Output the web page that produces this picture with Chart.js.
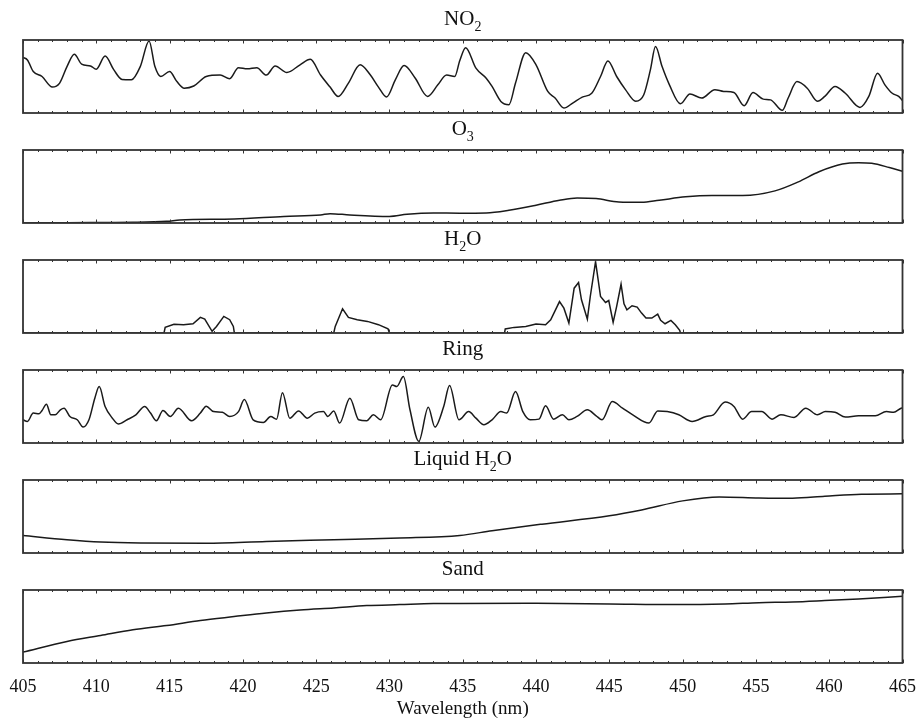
<!DOCTYPE html>
<html>
<head>
<meta charset="utf-8">
<script src="https://cdn.jsdelivr.net/npm/chart.js@4.4.1/dist/chart.umd.min.js"></script>
<style>
  body { margin: 0; background: #fff; }
  #wrap { position: relative; width: 919px; height: 720px; }
  #wrap canvas { position: absolute; left: 0; }
</style>
</head>
<body>
<div id="wrap"></div>
<script>
// x axis labels (nm)
const xTicks = [405, 410, 415, 420, 425, 430, 435, 440, 445, 450, 455, 460, 465];

const no2Wl = [405, 405.3, 405.7, 406.3, 407.0, 407.5, 408.0, 408.5, 409.0, 409.6, 410.0, 410.6, 411.2, 411.75, 412.4, 413.0, 413.6, 414.0, 414.4, 415.0, 415.5, 416.0, 416.65, 417.5, 418.45, 419.1, 419.7, 420.3, 420.95, 421.6, 422.2, 423.0, 423.9, 424.6, 425.3, 425.95, 426.5, 427.2, 428.0, 428.7, 429.25, 429.8, 430.4, 431.0, 431.75, 432.6, 433.3, 433.9, 434.45, 434.8, 435.2, 435.9, 436.6, 437.0, 437.6, 438.15, 438.6, 439.3, 440.0, 440.8, 441.3, 441.9, 442.5, 443.15, 443.8, 444.4, 444.9, 445.5, 446.1, 446.8, 447.35, 447.8, 448.15, 448.6, 449.1, 449.85, 450.5, 451.3, 452.2, 452.8, 453.5, 454.2, 454.8, 455.5, 456.0, 456.8, 457.2, 457.8, 458.5, 459.2, 459.7, 460.4, 461.1, 462.1, 462.7, 463.3, 463.8, 464.3, 464.74, 465];
const no2Val = [76, 72.7, 56.8, 50, 35.5, 41, 63.6, 80.5, 67, 64.5, 60, 78, 59, 46, 45.5, 63.6, 98.6, 63.6, 50, 56.8, 43, 34, 37, 50, 52, 47, 62, 60.5, 62, 52, 64.5, 55.5, 66, 73.6, 52, 35.5, 22.7, 41, 66, 52, 35.5, 22, 45.5, 65, 48, 22.7, 38.6, 52, 50, 72, 89.5, 61.4, 47.7, 36.4, 15.9, 11.4, 41, 82.7, 66, 29.5, 20.5, 6.8, 13.6, 21.8, 27, 50, 71.4, 50, 32, 16, 25, 59, 91, 63.6, 38.6, 12.7, 26, 20.5, 32, 29.5, 28, 10, 28, 19, 18, 3.6, 20.5, 43, 34, 16, 22.7, 36.4, 27, 7.7, 22.7, 54.5, 38.6, 27, 22.7, 17];

const o3Wl = [405, 408, 412.5, 414.8, 415.7, 419.4, 422.8, 425.3, 425.95, 427.3, 430.0, 431.2, 433.0, 434.8, 436.6, 438.15, 440.0, 441.6, 442.8, 444.1, 445.65, 447.2, 448.4, 450.2, 452.0, 454.1, 456.3, 457.9, 459.3, 460.9, 462.0, 462.9, 464.1, 465];
const o3Val = [0, 0.5, 1, 2.3, 4, 5.5, 9, 11, 12.8, 11, 9, 12, 13.8, 13.5, 13.8, 17.4, 24.3, 31.2, 34.4, 33.5, 28.9, 28.4, 31.2, 35.8, 37.6, 37.6, 44, 56.4, 70.2, 80.7, 82.6, 81.7, 76, 71];

const h2oWl = [405, 414.62, 414.7, 415.3, 415.95, 416.6, 417.1, 417.4, 417.9, 418.2, 418.7, 419.1, 419.35, 419.42, 426.2, 426.3, 426.8, 427.2, 427.8, 428.5, 429.25, 429.9, 430.0, 437.85, 437.9, 438.5, 439.3, 440.0, 440.65, 441.0, 441.6, 441.9, 442.24, 442.6, 442.9, 443.1, 443.5, 443.7, 444.06, 444.4, 444.74, 444.96, 445.26, 445.5, 445.8, 446.0, 446.2, 446.55, 446.9, 447.2, 447.5, 447.9, 448.3, 448.5, 448.8, 449.2, 449.5, 449.8, 449.85, 465];
const h2oVal = [0, 0, 7.7, 12, 11.4, 12.7, 21.4, 19, 2.3, 9, 22.7, 18.2, 9, 0, 0, 9, 33.2, 21.4, 18.2, 15.9, 11.4, 5.9, 0, 0, 5.5, 7.7, 9, 12.3, 11.4, 18.2, 43, 34, 13.6, 61.4, 69, 45.5, 19, 50, 97.7, 50, 41.8, 44.5, 14.5, 36.4, 66.8, 40, 31.8, 37.3, 35.5, 27.3, 20.5, 20.5, 25.9, 17.3, 12.7, 17.3, 11.4, 3.6, 0, 0];

const ringWl = [405, 405.3, 405.7, 406.1, 406.3, 406.6, 406.9, 407.2, 407.55, 407.8, 408.2, 408.7, 409.1, 409.5, 409.9, 410.2, 410.6, 411.1, 411.5, 412.1, 412.7, 413.3, 413.7, 414.1, 414.55, 415.05, 415.6, 416.5, 417.1, 417.5, 418.0, 418.6, 419.1, 419.7, 420.1, 420.7, 421.4, 421.9, 422.3, 422.7, 423.2, 423.8, 424.4, 424.9, 425.5, 425.8, 426.2, 426.6, 427.3, 427.9, 428.45, 428.9, 429.4, 430.2, 430.5, 430.95, 431.4, 432.0, 432.65, 433.1, 433.7, 434.1, 434.74, 435.4, 435.9, 436.44, 437.0, 437.6, 438.0, 438.6, 439.1, 439.6, 440.2, 440.65, 441.2, 441.8, 442.24, 442.8, 443.5, 444.1, 444.5, 445.2, 445.9, 446.6, 447.7, 448.3, 448.95, 449.74, 450.65, 451.6, 452.1, 452.9, 453.5, 454.1, 454.7, 455.4, 456.1, 456.7, 457.6, 458.4, 459.2, 459.74, 460.4, 461.1, 462.0, 463.15, 463.9, 464.4, 464.9, 465];
const ringVal = [31.8, 29.5, 41, 40, 44.5, 53.2, 38.6, 38.6, 45.5, 47.7, 36.4, 31.8, 21.8, 31.8, 61.4, 77.3, 50, 34, 26, 31.8, 38.6, 50, 41, 30.5, 44.5, 36.4, 47.7, 30.5, 41, 50.5, 43, 42, 36.4, 43, 59.5, 31.8, 28.2, 36.4, 32.7, 69, 34, 44, 34, 41, 43, 36.4, 44, 27.3, 61.4, 31.8, 30.5, 38.6, 31.8, 79.5, 77.3, 91, 45.5, 2.3, 49, 21.8, 50, 78.6, 31.8, 43, 34, 25, 31.8, 43, 41, 70.5, 43, 31.8, 32.7, 51, 32.7, 38.6, 31.8, 36.4, 45.5, 37.3, 31.8, 56.8, 47.7, 38.6, 27.3, 44, 43, 38.6, 29.5, 36.4, 38.6, 56, 50, 32.7, 43, 43, 32.7, 38.6, 35, 47.7, 38.6, 43, 42, 35.5, 37.3, 37.3, 43, 42, 47.7, 48];

const liqWl = [405, 408, 410.3, 413, 417.5, 421.6, 426.2, 430.7, 434.8, 437.0, 440.4, 445.0, 447.2, 450.0, 452.5, 455.2, 457.5, 459.7, 462.2, 465];
const liqVal = [24, 18.2, 15, 13.6, 13.2, 15.9, 18.2, 20.5, 24, 30.5, 39.5, 51, 59, 71.4, 76.8, 75.5, 75, 77.7, 80.5, 81];

const sandWl = [405, 408, 410.3, 412.5, 414.8, 417.1, 419.4, 421.6, 423.9, 426.2, 428.45, 430.7, 433.0, 434.8, 440, 445, 449.5, 452.9, 455.2, 457.5, 459.7, 462, 465];
const sandVal = [15, 29.5, 37.7, 45.5, 51.4, 58.2, 63.6, 68.6, 72.7, 75.5, 78.6, 80, 81.4, 81.6, 81.8, 80.9, 80, 80.9, 82.7, 83.6, 85.5, 87.7, 91.4];

// '_' puts the next character in subscript
const panels = [
  { title: 'NO_2', wl: no2Wl, val: no2Val, smooth: true },
  { title: 'O_3', wl: o3Wl, val: o3Val, smooth: true },
  { title: 'H_2O', wl: h2oWl, val: h2oVal, smooth: false },
  { title: 'Ring', wl: ringWl, val: ringVal, smooth: true },
  { title: 'Liquid H_2O', wl: liqWl, val: liqVal, smooth: true },
  { title: 'Sand', wl: sandWl, val: sandVal, smooth: true }
];

const serif = "'Liberation Serif', 'Times New Roman', serif";

// box, inward tick marks and subscripted title
const frame = {
  id: 'frame',
  afterDatasetsDraw(chart, args, opts) {
    const { ctx, chartArea: a } = chart;
    const x = chart.scales.x;
    ctx.save();
    ctx.strokeStyle = '#333';
    ctx.lineWidth = 1;
    for (let w = 405; w <= 465; w++) {
      const px = Math.round(x.getPixelForValue(w)) + 0.5;
      const len = w % 5 === 0 ? 3.5 : 2;
      ctx.beginPath();
      ctx.moveTo(px, a.top); ctx.lineTo(px, a.top + len);
      ctx.moveTo(px, a.bottom); ctx.lineTo(px, a.bottom - len);
      ctx.stroke();
    }
    ctx.lineWidth = 1.8;
    ctx.strokeRect(a.left, a.top, a.right - a.left, a.bottom - a.top);

    // title
    const parts = [];
    const t = opts.text;
    for (let i = 0; i < t.length; i++) {
      if (t[i] === '_') { parts.push({ s: t[i + 1], sub: true }); i++; }
      else parts.push({ s: t[i], sub: false });
    }
    const big = '21px ' + serif, small = '14px ' + serif;
    let total = 0;
    parts.forEach(p => { ctx.font = p.sub ? small : big; p.w = ctx.measureText(p.s).width; total += p.w; });
    let cx = (a.left + a.right) / 2 - total / 2;
    const base = a.top - 15;
    ctx.fillStyle = '#111';
    ctx.textBaseline = 'alphabetic';
    parts.forEach(p => {
      ctx.font = p.sub ? small : big;
      ctx.fillText(p.s, cx, p.sub ? base + 6 : base);
      cx += p.w;
    });
    ctx.restore();
  }
};

const wrap = document.getElementById('wrap');
panels.forEach((p, i) => {
  const last = i === panels.length - 1;
  const cv = document.createElement('canvas');
  cv.width = 919;
  cv.height = last ? 170 : 114;
  cv.style.top = (110 * i) + 'px';
  wrap.appendChild(cv);

  new Chart(cv, {
    type: 'line',
    data: {
      datasets: [{
        data: p.wl.map((w, k) => ({ x: w, y: p.val[k] })),
        borderColor: '#1a1a1a',
        borderWidth: 1.5,
        pointRadius: 0,
        fill: false,
        cubicInterpolationMode: p.smooth ? 'monotone' : 'default',
        tension: p.smooth ? 0.4 : 0
      }]
    },
    options: {
      responsive: false,
      animation: false,
      devicePixelRatio: 1,
      layout: { padding: { top: 40, left: 23, right: 16.5, bottom: last ? 0 : 1 } },
      plugins: {
        legend: { display: false },
        tooltip: { enabled: false },
        frame: { text: p.title }
      },
      scales: {
        x: {
          type: 'linear', min: 405, max: 465,
          display: last,
          afterBuildTicks: s => { s.ticks = xTicks.map(v => ({ value: v })); },
          afterFit: s => {
            if (!last) return;
            s.paddingLeft = 0; s.paddingRight = 0; s.height = 57;
          },
          grid: { display: false, drawTicks: false },
          border: { display: false },
          ticks: { padding: 13, color: '#111', maxRotation: 0, autoSkip: false, font: { family: serif, size: 18 } },
          title: { display: true, text: 'Wavelength (nm)', color: '#111', padding: { top: 1, bottom: 0 }, font: { family: serif, size: 19 } }
        },
        y: { display: false, min: 0, max: 100 }
      }
    },
    plugins: [frame]
  });
});
</script>
</body>
</html>
